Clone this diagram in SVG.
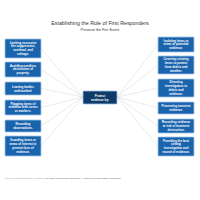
<svg xmlns="http://www.w3.org/2000/svg" width="200" height="200" viewBox="0 0 200 200">
<style>
.bx{fill:#1a64ae;stroke:#9fc3e7;stroke-width:0.8}
.ct{fill:#0e3b68;stroke:#9fc3e7;stroke-width:0.8}
.t{font-family:"Liberation Sans",Arial,sans-serif;font-size:3px;font-weight:bold;fill:#ffffff;text-anchor:middle}
.ln{stroke:#dcdcdc;stroke-width:0.6;fill:none}
.ti{font-family:"Liberation Sans",Arial,sans-serif;fill:#333333;text-anchor:middle}
</style>
<rect width="200" height="200" fill="#ffffff"/>
<text class="ti" x="100" y="25" font-size="5.3">Establishing the Role of First Responders</text>
<text class="ti" x="100" y="31" font-size="3.6" fill="#555555">Preserve the Fire Scene</text>
<g id="connectors">
<line class="ln" x1="83" y1="97" x2="41" y2="48.5"/>
<line class="ln" x1="83" y1="97" x2="41" y2="69.5"/>
<line class="ln" x1="83" y1="97" x2="41" y2="88.5"/>
<line class="ln" x1="83" y1="97" x2="41" y2="107.5"/>
<line class="ln" x1="83" y1="97" x2="41" y2="126"/>
<line class="ln" x1="83" y1="97" x2="41" y2="146"/>
<line class="ln" x1="117" y1="97" x2="158" y2="44.5"/>
<line class="ln" x1="117" y1="97" x2="158" y2="65"/>
<line class="ln" x1="117" y1="97" x2="158" y2="88"/>
<line class="ln" x1="117" y1="97" x2="158" y2="108"/>
<line class="ln" x1="117" y1="97" x2="158" y2="126"/>
<line class="ln" x1="117" y1="97" x2="158" y2="146.5"/>
</g>
<g id="center"><rect class="ct" x="83" y="91" width="34" height="13" rx="0.8"/>
<text class="t" x="100" y="96.8">Protect</text><text class="t" x="100" y="100.6">evidence by:</text></g>
<g id="l1"><rect class="bx" x="5" y="39" width="36" height="19" rx="0.8"/>
<text class="t" x="23" y="43.6">Limiting excessive</text><text class="t" x="23" y="47.4">fire suppression,</text><text class="t" x="23" y="51.2">overhaul, and</text><text class="t" x="23" y="55">salvage.</text></g>
<g id="l2"><rect class="bx" x="5" y="62" width="36" height="15" rx="0.8"/>
<text class="t" x="23" y="66.6">Avoiding needless</text><text class="t" x="23" y="70.4">destruction of</text><text class="t" x="23" y="74.2">property.</text></g>
<g id="l3"><rect class="bx" x="5" y="82" width="36" height="13" rx="0.8"/>
<text class="t" x="23" y="87.8">Leaving bodies</text><text class="t" x="23" y="91.6">undisturbed.</text></g>
<g id="l4"><rect class="bx" x="5" y="100" width="36" height="15" rx="0.8"/>
<text class="t" x="23" y="104.6">Flagging items of</text><text class="t" x="23" y="108.4">evidence with cones</text><text class="t" x="23" y="112.2">or markers.</text></g>
<g id="l5"><rect class="bx" x="5" y="120" width="36" height="12" rx="0.8"/>
<text class="t" x="23" y="125.3">Recording</text><text class="t" x="23" y="129.1">observations.</text></g>
<g id="l6"><rect class="bx" x="5" y="136" width="36" height="20" rx="0.8"/>
<text class="t" x="23" y="141.1">Guarding items or</text><text class="t" x="23" y="144.9">areas of interest to</text><text class="t" x="23" y="148.7">prevent loss of</text><text class="t" x="23" y="152.5">evidence.</text></g>
<g id="r1"><rect class="bx" x="158" y="37" width="36" height="15" rx="0.8"/>
<text class="t" x="176" y="41.6">Isolating items or</text><text class="t" x="176" y="45.4">areas of potential</text><text class="t" x="176" y="49.2">evidence.</text></g>
<g id="r2"><rect class="bx" x="158" y="56" width="36" height="18" rx="0.8"/>
<text class="t" x="176" y="60.1">Covering existing</text><text class="t" x="176" y="63.9">items to protect</text><text class="t" x="176" y="67.7">from debris and</text><text class="t" x="176" y="71.5">weather.</text></g>
<g id="r3"><rect class="bx" x="158" y="79" width="36" height="18" rx="0.8"/>
<text class="t" x="176" y="83.1">Directing</text><text class="t" x="176" y="86.9">investigators to</text><text class="t" x="176" y="90.7">debris and</text><text class="t" x="176" y="94.5">evidence.</text></g>
<g id="r4"><rect class="bx" x="158" y="102" width="36" height="12" rx="0.8"/>
<text class="t" x="176" y="107.3">Preserving transient</text><text class="t" x="176" y="111.1">evidence.</text></g>
<g id="r5"><rect class="bx" x="158" y="119" width="36" height="14" rx="0.8"/>
<text class="t" x="176" y="123.1">Recording evidence</text><text class="t" x="176" y="126.9">at risk of imminent</text><text class="t" x="176" y="130.7">destruction.</text></g>
<g id="r6"><rect class="bx" x="158" y="137" width="36" height="19" rx="0.8"/>
<text class="t" x="176" y="141.6">Providing the best</text><text class="t" x="176" y="145.4">setting</text><text class="t" x="176" y="149.2">investigation and</text><text class="t" x="176" y="153">record of evidence.</text></g>
<text x="5" y="178.5" font-family="'Liberation Sans',Arial,sans-serif" font-size="2.5" fill="#999999">Source: National Institute of Justice <tspan fill="#555555">Fire and Arson Scene Evidence: A Guide for Public Safety Personnel</tspan></text>
</svg>
